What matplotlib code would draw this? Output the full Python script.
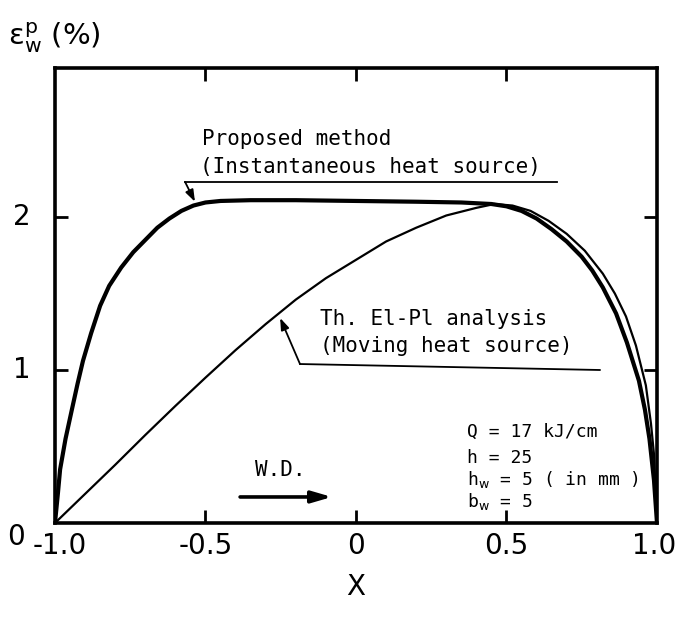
import matplotlib
matplotlib.use("Agg")
import matplotlib.pyplot as plt

# plastic strain along the weld line, read at points along x
x_proposed = [-1.0, -0.99, -0.983, -0.965, -0.944, -0.925, -0.907, -0.88, -0.85, -0.82,
              -0.78, -0.74, -0.70, -0.66, -0.62, -0.58, -0.54, -0.50, -0.45, -0.35,
              -0.2, 0.0, 0.2, 0.35, 0.45, 0.50, 0.55, 0.60, 0.65, 0.70,
              0.75, 0.785, 0.82, 0.864, 0.90, 0.94, 0.96, 0.975, 0.99, 1.0]
eps_proposed = [0.0, 0.20, 0.35, 0.55, 0.74, 0.91, 1.06, 1.24, 1.42, 1.55,
                1.67, 1.77, 1.85, 1.93, 1.99, 2.04, 2.075, 2.095, 2.105, 2.11,
                2.11, 2.105, 2.10, 2.095, 2.085, 2.07, 2.04, 1.99, 1.92, 1.84,
                1.74, 1.65, 1.54, 1.37, 1.18, 0.93, 0.74, 0.55, 0.28, 0.0]

x_moving = [-1.0, -0.9, -0.8, -0.7, -0.6, -0.5, -0.4, -0.3, -0.2, -0.1,
            0.0, 0.1, 0.2, 0.3, 0.4, 0.46, 0.52, 0.58, 0.64,
            0.70, 0.76, 0.82, 0.86, 0.897, 0.93, 0.963, 0.98, 0.99, 1.0]
eps_moving = [0.0, 0.19, 0.38, 0.575, 0.765, 0.95, 1.13, 1.30, 1.46, 1.60,
              1.72, 1.84, 1.93, 2.01, 2.06, 2.085, 2.075, 2.04, 1.975,
              1.89, 1.78, 1.63, 1.50, 1.35, 1.16, 0.90, 0.65, 0.45, 0.0]

xticks = [-1.0, -0.5, 0.0, 0.5, 1.0]
xtick_labels = ["-1.0", "-0.5", "0", "0.5", "1.0"]
yticks = [0, 1, 2]
ytick_labels = ["0", "1", "2"]

params = ["Q = 17 kJ/cm", "h = 25", r"h$_\mathsf{w}$ = 5 ( in mm )", r"b$_\mathsf{w}$ = 5"]

plt.rcParams["mathtext.fontset"] = "dejavusans"
mono = "DejaVu Sans Mono"
num_font = "DejaVu Sans"

fig = plt.figure(figsize=(6.78, 6.24), dpi=100)
ax = fig.add_axes([0.0811, 0.1619, 0.8879, 0.7291])

ax.plot(x_proposed, eps_proposed, color="black", lw=3.0, solid_capstyle="round")
ax.plot(x_moving, eps_moving, color="black", lw=1.6)

ax.set_xlim(-1.0, 1.0)
ax.set_ylim(0, 2.974)

ax.set_xticks(xticks[1:-1])
ax.set_yticks(yticks[1:])
ax.tick_params(direction="in", length=9.5, width=2, top=True, right=True,
               labelbottom=False, labelleft=False)
for s in ax.spines.values():
    s.set_linewidth(2.6)

# tick labels drawn by hand so the end values sit at the corners
for xv, lab in zip(xticks, xtick_labels):
    if xv == 1.0:
        ax.text(1.063, -0.15, lab, ha="right", va="center", fontsize=20,
                family=num_font, clip_on=False)
    elif xv == -1.0:
        ax.text(-0.985, -0.15, lab, ha="center", va="center", fontsize=20,
                family=num_font, clip_on=False)
    else:
        ax.text(xv, -0.15, lab, ha="center", va="center", fontsize=20,
                family=num_font, clip_on=False)
for yv, lab in zip(yticks, ytick_labels):
    if yv == 0:
        ax.text(-1.13, -0.09, lab, ha="center", va="center", fontsize=20,
                family=num_font, clip_on=False)
    else:
        ax.text(-1.11, yv, lab, ha="center", va="center", fontsize=20,
                family=num_font, clip_on=False)

ax.text(0.0, -0.42, "X", ha="center", va="center", fontsize=20,
        family=num_font, clip_on=False)
fig.text(8 / 678, 1 - 45 / 624, r"$\mathrm{ε}_\mathrm{w}^\mathrm{p}$ (%)",
         fontsize=21, family=num_font, ha="left", va="baseline")

# annotation for the proposed method
ax.text(-0.512, 2.47, "Proposed method", family=mono, fontsize=15, va="baseline")
ax.text(-0.518, 2.29, "(Instantaneous heat source)", family=mono, fontsize=15,
        va="baseline")
ax.plot([0.668, -0.568], [2.23, 2.23], color="black", lw=1.3)
ax.annotate("", xy=(-0.535, 2.10), xytext=(-0.568, 2.23),
            arrowprops=dict(arrowstyle="-|>,head_length=0.7,head_width=0.25",
                            color="black", lw=1.3, shrinkA=0, shrinkB=0))

# annotation for the thermal elastic-plastic analysis
ax.text(-0.12, 1.294, "Th. El-Pl analysis", family=mono, fontsize=15, va="baseline")
ax.text(-0.12, 1.118, "(Moving heat source)", family=mono, fontsize=15,
        va="baseline")
ax.plot([-0.186, 0.81], [1.039, 1.0], color="black", lw=1.3)
ax.annotate("", xy=(-0.252, 1.34), xytext=(-0.186, 1.039),
            arrowprops=dict(arrowstyle="-|>,head_length=0.7,head_width=0.25",
                            color="black", lw=1.3, shrinkA=0, shrinkB=0))

# welding direction
ax.text(-0.25, 0.31, "W.D.", family=mono, fontsize=15, ha="center", va="baseline")
ax.annotate("", xy=(-0.08, 0.17), xytext=(-0.385, 0.17),
            arrowprops=dict(arrowstyle="-|>,head_length=1.2,head_width=0.35",
                            color="black", lw=2.6, shrinkA=0, shrinkB=0))

# welding conditions
for yv, line in zip([0.562, 0.392, 0.248, 0.105], params):
    ax.text(0.37, yv, line, family=mono, fontsize=13, va="baseline")

fig.savefig("out.png", dpi=100)
